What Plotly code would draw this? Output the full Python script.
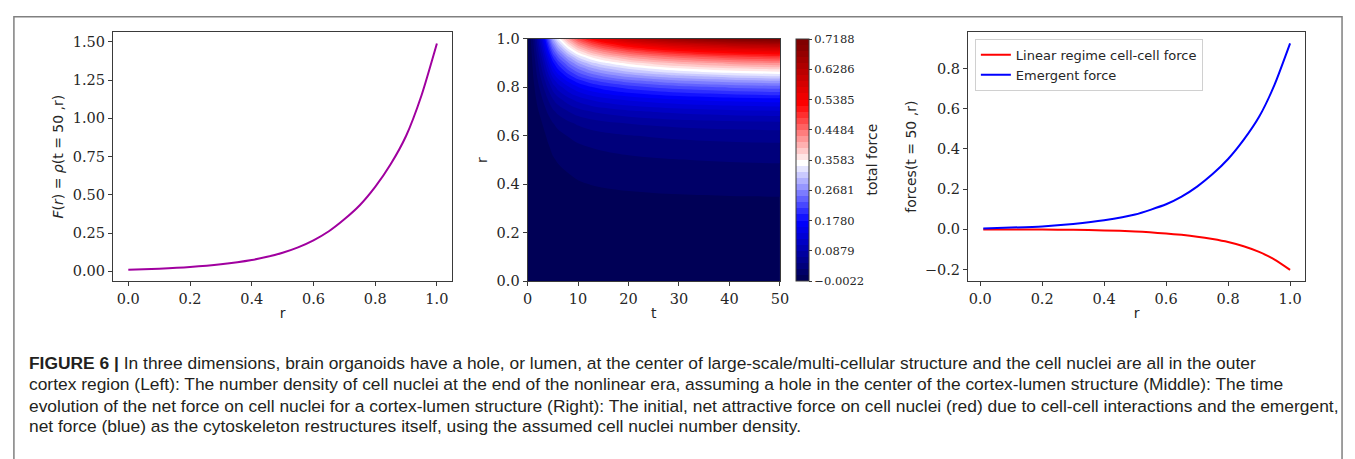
import numpy as np
import plotly.graph_objects as go

W, H = 1355, 459

# ---------------- Left panel: number density at t = 50 ----------------
r_left = [0.0, 0.1, 0.2, 0.3, 0.4, 0.45, 0.5, 0.55, 0.6, 0.65, 0.7, 0.75, 0.8, 0.85, 0.9, 0.95, 1.0]
F_left = [0.010, 0.017, 0.028, 0.046, 0.074, 0.095, 0.122, 0.157, 0.203, 0.262, 0.340, 0.432, 0.552, 0.700, 0.885, 1.150, 1.490]

# ---------------- Middle panel: total force field ----------------
t_grid = [0, 0.5, 1, 1.5, 2, 3, 4, 5, 6, 8, 10, 12.5, 15, 20, 25, 30, 40, 50]
growth_t = [0.0, 0.015, 0.04, 0.075, 0.115, 0.2, 0.3, 0.4, 0.47, 0.575, 0.66, 0.73, 0.78, 0.85, 0.895, 0.93, 0.975, 1.0]
r_grid = [0.0, 0.1, 0.2, 0.3, 0.35, 0.4, 0.45, 0.5, 0.55, 0.6, 0.65, 0.7, 0.75, 0.8,
          0.825, 0.85, 0.875, 0.9, 0.925, 0.95, 0.975, 1.0]
force_t50 = [-0.0022, 0.0, 0.004, 0.010, 0.016, 0.022, 0.028, 0.036, 0.046, 0.060, 0.082, 0.120, 0.172, 0.240,
             0.282, 0.330, 0.378, 0.430, 0.490, 0.560, 0.635, 0.7188]
cbar_ticks = [-0.0022, 0.0879, 0.1780, 0.2681, 0.3583, 0.4484, 0.5385, 0.6286, 0.7188]
cbar_labels = ["\u22120.0022", "0.0879", "0.1780", "0.2681", "0.3583", "0.4484", "0.5385", "0.6286", "0.7188"]
level_start, level_end, n_bands = -0.0022, 0.7188, 40

# ---------------- Right panel: forces at t = 50 ----------------
r_right = [0.01, 0.1, 0.2, 0.3, 0.4, 0.5, 0.6, 0.65, 0.7, 0.75, 0.8, 0.85, 0.9, 0.95, 1.0]
linear_force = [0.0, -0.0003, -0.001, -0.002, -0.005, -0.010, -0.020, -0.027, -0.036, -0.048, -0.063, -0.084, -0.112, -0.150, -0.201]
emergent_force = [0.005, 0.009, 0.015, 0.027, 0.045, 0.074, 0.125, 0.163, 0.213, 0.275, 0.350, 0.445, 0.560, 0.720, 0.925]

# ---------------- helpers ----------------
def px_x(x):
    return x / W

def px_y(y):
    return 1 - y / H

TICK_FONT = dict(family="DejaVu Serif", size=14.5, color="#262626")
TITLE_FONT = dict(family="DejaVu Sans", size=14, color="#262626")
AXC = "#3a3a3a"

def axis_style(**kw):
    d = dict(showline=True, mirror=True, linecolor=AXC, linewidth=1, ticks="outside",
             ticklen=4, tickwidth=1, tickcolor=AXC, showgrid=False, zeroline=False,
             tickfont=TICK_FONT, title_font=TITLE_FONT)
    d.update(kw)
    return d

# seismic colormap, positions stretched so band colours match matplotlib's contourf
seis = [(0.0, "rgb(0,0,77)"), (0.25, "rgb(0,0,255)"), (0.5, "rgb(255,255,255)"),
        (0.75, "rgb(255,0,0)"), (1.0, "rgb(128,0,0)")]
stretch = n_bands / (n_bands + 1)
colorscale = [[p * stretch, c] for p, c in seis] + [[1.0, seis[-1][1]]]

Z = np.outer(np.array(force_t50), np.array(growth_t))

fig = go.Figure()

fig.add_trace(go.Scatter(x=r_left, y=F_left, mode="lines", line=dict(color="#a0009f", width=2, shape="spline", smoothing=0.6),
                         showlegend=False, xaxis="x", yaxis="y"))

fig.add_trace(go.Contour(
    x=t_grid, y=r_grid, z=Z, xaxis="x2", yaxis="y2",
    autocontour=False,
    contours=dict(start=level_start, end=level_end, size=(level_end - level_start) / n_bands,
                  coloring="fill", showlines=False),
    line=dict(width=0),
    colorscale=colorscale, zmin=level_start, zmax=level_end,
    showscale=True,
    colorbar=dict(x=px_x(799), xanchor="left", xpad=0, y=px_y(283), yanchor="bottom", ypad=0,
                  len=251 / H, lenmode="fraction", thickness=13, thicknessmode="pixels",
                  outlinewidth=1, outlinecolor=AXC,
                  tickvals=cbar_ticks, ticktext=cbar_labels, ticks="outside", ticklen=3,
                  tickcolor=AXC, tickfont=dict(family="DejaVu Serif", size=11.5, color="#262626")),
    hoverinfo="skip", showlegend=False))

fig.add_trace(go.Scatter(x=r_right, y=linear_force, mode="lines", name="Linear regime cell-cell force",
                         line=dict(color="#ff0000", width=2, shape="spline", smoothing=0.6),
                         xaxis="x3", yaxis="y3", legendgroup="a"))
fig.add_trace(go.Scatter(x=r_right, y=emergent_force, mode="lines", name="Emergent force",
                         line=dict(color="#0000ff", width=2, shape="spline", smoothing=0.6),
                         xaxis="x3", yaxis="y3", legendgroup="b"))

ybot = px_y(283)
fig.update_layout(
    width=W, height=H, margin=dict(l=0, r=0, t=0, b=0),
    paper_bgcolor="white", plot_bgcolor="white",
    xaxis=axis_style(domain=[px_x(109), px_x(452)], range=[-0.05, 1.05], tickvals=[0, 0.2, 0.4, 0.6, 0.8, 1.0],
                     tickformat=".1f", anchor="y", title=dict(text="r", standoff=2)),
    yaxis=axis_style(domain=[ybot, px_y(25)], range=[-0.064, 1.564], tickvals=[0, 0.25, 0.5, 0.75, 1.0, 1.25, 1.5],
                     tickformat=".2f", anchor="x",
                     title=dict(text="<i>F</i>(<i>r</i>) = <i>\u03c1</i>(t = 50 ,r)", standoff=5)),
    xaxis2=axis_style(domain=[px_x(528), px_x(783)], range=[0, 50], tickvals=[0, 10, 20, 30, 40, 50],
                      anchor="y2", title=dict(text="t", standoff=2)),
    yaxis2=axis_style(domain=[ybot, px_y(32)], range=[0, 1], tickvals=[0, 0.2, 0.4, 0.6, 0.8, 1.0],
                      tickformat=".1f", anchor="x2", title=dict(text="r", standoff=5)),
    xaxis3=axis_style(domain=[px_x(973), px_x(1314)], range=[-0.0395, 1.0495], tickvals=[0, 0.2, 0.4, 0.6, 0.8, 1.0],
                      tickformat=".1f", anchor="y3", title=dict(text="r", standoff=2)),
    yaxis3=axis_style(domain=[ybot, px_y(25)], range=[-0.2573, 0.9813], tickvals=[-0.2, 0, 0.2, 0.4, 0.6, 0.8],
                      tickformat=".1f", anchor="x3", title=dict(text="forces(t = 50 ,r)", standoff=4)),
    legend=dict(x=px_x(980), xanchor="left", y=px_y(32), yanchor="top", bgcolor="rgba(255,255,255,0.9)",
                bordercolor="#d0d0d0", borderwidth=1, font=dict(family="DejaVu Sans", size=13, color="#262626"),
                itemwidth=30, tracegroupgap=3, traceorder="normal"),
)

# colorbar label
fig.add_annotation(text="total force", xref="paper", yref="paper", x=px_x(876), y=px_y(157), textangle=-90,
                   xanchor="center", yanchor="middle", showarrow=False, font=TITLE_FONT)

# figure frame (top, left and right edges; the bottom runs past the picture)
fig.add_shape(type="rect", xref="paper", yref="paper", x0=px_x(9), x1=px_x(1351), y0=-0.2, y1=px_y(9),
              line=dict(color="#808080", width=1.5), fillcolor="rgba(0,0,0,0)", layer="below")

caption_lines = [
    "<b>FIGURE 6 |</b> In three dimensions, brain organoids have a hole, or lumen, at the center of large-scale/multi-cellular structure and the cell nuclei are all in the outer",
    "cortex region (Left): The number density of cell nuclei at the end of the nonlinear era, assuming a hole in the center of the cortex-lumen structure (Middle): The time",
    "evolution of the net force on cell nuclei for a cortex-lumen structure (Right): The initial, net attractive force on cell nuclei (red) due to cell-cell interactions and the emergent,",
    "net force (blue) as the cytoskeleton restructures itself, using the assumed cell nuclei number density.",
]
caption_y = [368, 390, 412, 433]
for txt, yy in zip(caption_lines, caption_y):
    fig.add_annotation(text=txt, xref="paper", yref="paper", x=px_x(22), y=px_y(yy), xanchor="left", yanchor="middle",
                       showarrow=False, font=dict(family="Liberation Sans, Arial, sans-serif",
                                                  size=17.4, color="#231f20"))

fig.write_html("out.html")
